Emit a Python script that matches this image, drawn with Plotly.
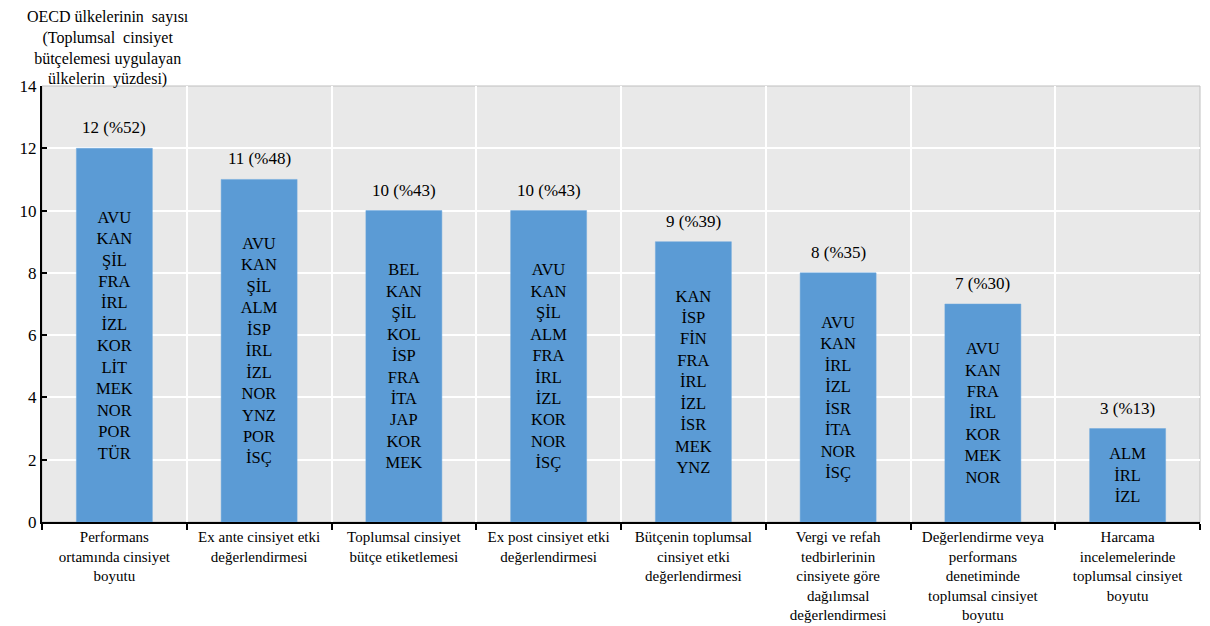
import plotly.graph_objects as go

categories = [
    "Performans<br>ortamında cinsiyet<br>boyutu",
    "Ex ante cinsiyet etki<br>değerlendirmesi",
    "Toplumsal cinsiyet<br>bütçe etiketlemesi",
    "Ex post cinsiyet etki<br>değerlendirmesi",
    "Bütçenin toplumsal<br>cinsiyet etki<br>değerlendirmesi",
    "Vergi ve refah<br>tedbirlerinin<br>cinsiyete göre<br>dağılımsal<br>değerlendirmesi",
    "Değerlendirme veya<br>performans<br>denetiminde<br>toplumsal cinsiyet<br>boyutu",
    "Harcama<br>incelemelerinde<br>toplumsal cinsiyet<br>boyutu",
]
counts = [12, 11, 10, 10, 9, 8, 7, 3]
percents = [52, 48, 43, 43, 39, 35, 30, 13]
countries = [
    ["AVU", "KAN", "ŞİL", "FRA", "İRL", "İZL", "KOR", "LİT", "MEK", "NOR", "POR", "TÜR"],
    ["AVU", "KAN", "ŞİL", "ALM", "İSP", "İRL", "İZL", "NOR", "YNZ", "POR", "İSÇ"],
    ["BEL", "KAN", "ŞİL", "KOL", "İSP", "FRA", "İTA", "JAP", "KOR", "MEK"],
    ["AVU", "KAN", "ŞİL", "ALM", "FRA", "İRL", "İZL", "KOR", "NOR", "İSÇ"],
    ["KAN", "İSP", "FİN", "FRA", "İRL", "İZL", "İSR", "MEK", "YNZ"],
    ["AVU", "KAN", "İRL", "İZL", "İSR", "İTA", "NOR", "İSÇ"],
    ["AVU", "KAN", "FRA", "İRL", "KOR", "MEK", "NOR"],
    ["ALM", "İRL", "İZL"],
]
y_ticks = [0, 2, 4, 6, 8, 10, 12, 14]
y_title = "OECD ülkelerinin  sayısı<br>(Toplumsal  cinsiyet<br>bütçelemesi uygulayan<br>ülkelerin  yüzdesi)"

FONT = "Liberation Serif"

fig = go.Figure()
fig.add_trace(go.Bar(
    x=categories,
    y=counts,
    width=0.525,
    marker=dict(color="#5B9BD5", line=dict(color="#6FA8DC", width=0.5)),
    text=["<br>".join(c) for c in countries],
    textposition="inside",
    insidetextanchor="middle",
    textangle=0,
    constraintext="none",
    textfont=dict(family=FONT, size=16.5, color="black"),
    hoverinfo="skip",
))

for cat, n, p in zip(categories, counts, percents):
    fig.add_annotation(
        x=cat, y=n, text=f"{n} (%{p})", showarrow=False,
        yanchor="bottom", yshift=9,
        font=dict(family=FONT, size=17, color="black"),
    )

fig.add_annotation(
    xref="paper", yref="paper", x=0.057, y=1.0, yshift=-4,
    xanchor="center", yanchor="bottom", align="center",
    text=y_title, showarrow=False,
    font=dict(family=FONT, size=16, color="black"),
)

fig.add_shape(type="rect", xref="paper", yref="paper", x0=0, x1=1, y0=0, y1=1,
              line=dict(color="#BFBFBF", width=1), layer="below")

fig.update_layout(
    width=1210, height=626,
    margin=dict(l=42, r=10, t=86, b=104),
    paper_bgcolor="white",
    plot_bgcolor="#E9E9E9",
    showlegend=False,
    bargap=0.475,
    font=dict(family=FONT, size=15, color="black"),
)
fig.update_xaxes(
    type="category",
    tickson="boundaries",
    ticks="outside", ticklen=6, tickwidth=2, tickcolor="black",
    showgrid=True, gridcolor="white", gridwidth=2,
    showline=True, linecolor="black", linewidth=2,
    tickfont=dict(family=FONT, size=15, color="black"),
    tickangle=0,
    automargin=False,
)
fig.update_yaxes(
    range=[0, 14], tickvals=y_ticks,
    ticks="inside", ticklen=5, tickwidth=2, tickcolor="black",
    showgrid=True, gridcolor="white", gridwidth=2,
    showline=True, linecolor="black", linewidth=2,
    zeroline=False,
    tickfont=dict(family=FONT, size=17, color="black"),
    automargin=False,
)

fig.write_html("out.html")
